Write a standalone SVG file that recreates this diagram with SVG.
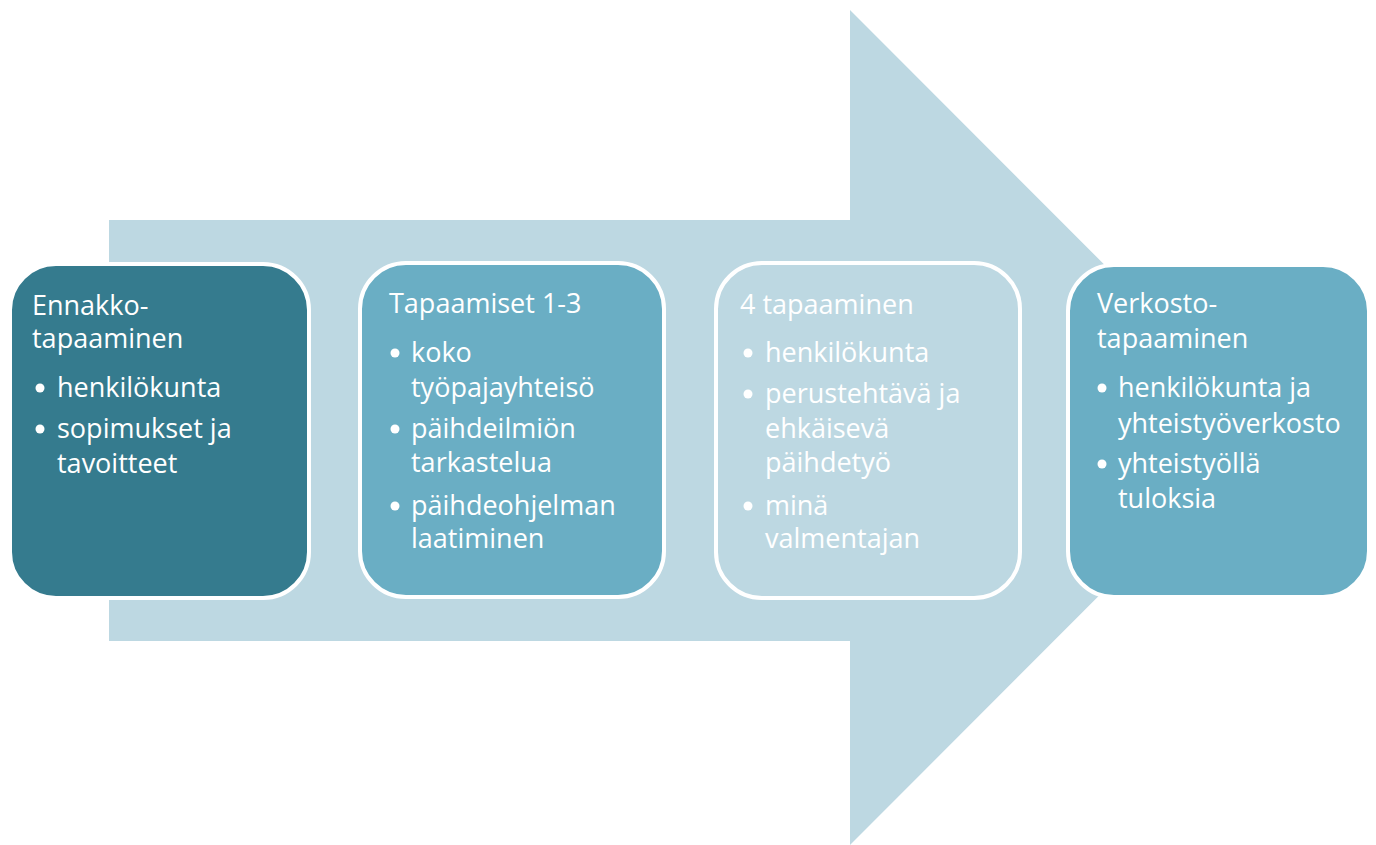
<svg xmlns="http://www.w3.org/2000/svg" width="1376" height="845" viewBox="0 0 1376 845">
<style>
.box{stroke:#ffffff;stroke-width:4}
.t{font-family:"Open Sans","Noto Sans",sans-serif;font-size:27px;fill:#ffffff}
.b{fill:#ffffff}
</style>
<rect width="1376" height="845" fill="#ffffff"/>
<g id="arrow">
<polygon points="109,220 850,220 850,10 1267,427.5 850,845 850,641 109,641" fill="#BDD8E2"/>
</g>
<g id="node1">
<rect class="box" x="10" y="264" width="299" height="334" rx="46" fill="#357B8E"/>
<text class="t" x="32" y="315">Ennakko-</text>
<text class="t" x="32" y="348">tapaaminen</text>
<circle class="b" cx="40" cy="388" r="4.5"/><text class="t" x="57" y="397">henkilökunta</text>
<circle class="b" cx="40" cy="429" r="4.5"/><text class="t" x="57" y="438">sopimukset ja</text>
<text class="t" x="57" y="473">tavoitteet</text>
</g>
<g id="node2">
<rect class="box" x="360" y="263" width="304" height="334" rx="46" fill="#6AAEC4"/>
<text class="t" x="389" y="313">Tapaamiset 1-3</text>
<circle class="b" cx="395" cy="353" r="4.5"/><text class="t" x="411" y="362">koko</text>
<text class="t" x="411" y="397">työpajayhteisö</text>
<circle class="b" cx="395" cy="429" r="4.5"/><text class="t" x="411" y="438">päihdeilmiön</text>
<text class="t" x="411" y="472">tarkastelua</text>
<circle class="b" cx="395" cy="506" r="4.5"/><text class="t" x="411" y="515">päihdeohjelman</text>
<text class="t" x="411" y="548">laatiminen</text>
</g>
<g id="node3">
<rect class="box" x="716" y="263" width="304" height="335" rx="46" fill="#BDD8E2"/>
<text class="t" x="740" y="314">4 tapaaminen</text>
<circle class="b" cx="748" cy="353" r="4.5"/><text class="t" x="765" y="362">henkilökunta</text>
<circle class="b" cx="748" cy="394" r="4.5"/><text class="t" x="765" y="403">perustehtävä ja</text>
<text class="t" x="765" y="438">ehkäisevä</text>
<text class="t" x="765" y="472">päihdetyö</text>
<circle class="b" cx="748" cy="506" r="4.5"/><text class="t" x="765" y="515">minä</text>
<text class="t" x="765" y="548">valmentajan</text>
</g>
<g id="node4">
<rect class="box" x="1068" y="265" width="301" height="332" rx="46" fill="#6AAEC4"/>
<text class="t" x="1097" y="313">Verkosto-</text>
<text class="t" x="1097" y="348">tapaaminen</text>
<circle class="b" cx="1102" cy="388" r="4.5"/><text class="t" x="1118" y="397">henkilökunta ja</text>
<text class="t" x="1118" y="433">yhteistyöverkosto</text>
<circle class="b" cx="1102" cy="464" r="4.5"/><text class="t" x="1118" y="473">yhteistyöllä</text>
<text class="t" x="1118" y="508">tuloksia</text>
</g>
<g id="connectors"></g>
</svg>
